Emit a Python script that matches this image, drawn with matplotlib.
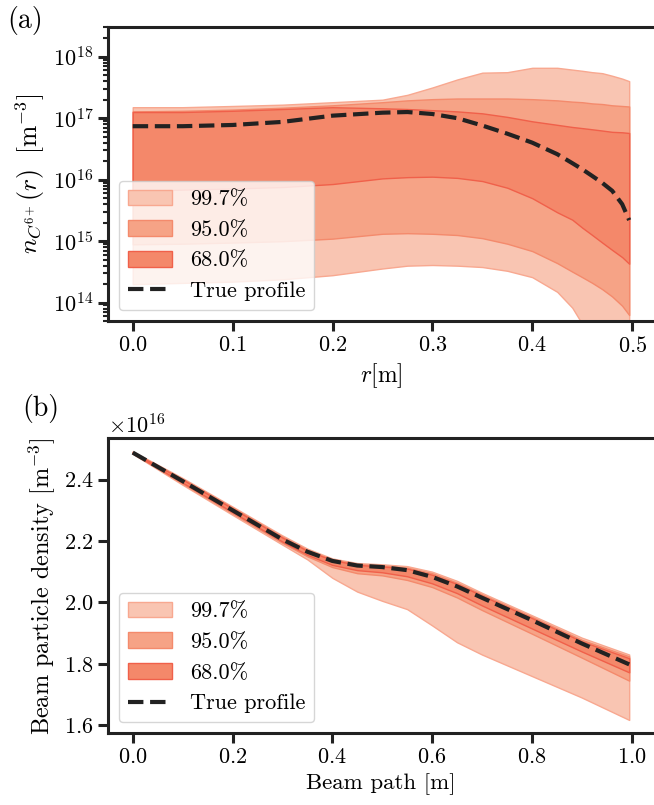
import numpy as np
import matplotlib
matplotlib.use("Agg")
import matplotlib.pyplot as plt

plt.rcParams['font.family'] = 'serif'
plt.rcParams['font.serif'] = ['cmr10']
plt.rcParams['mathtext.fontset'] = 'cm'
plt.rcParams['axes.formatter.use_mathtext'] = True
plt.rcParams['axes.unicode_minus'] = False
plt.rcParams['font.size'] = 16

# (a) C6+ density profile
r = [0, 0.05, 0.1, 0.15, 0.2, 0.25, 0.275, 0.3, 0.325, 0.35,
     0.375, 0.4, 0.425, 0.44, 0.45, 0.46, 0.47, 0.48, 0.49, 0.497]
n_true = [7.41e16, 7.41e16, 7.76e16, 8.71e16, 1.10e17, 1.23e17, 1.26e17, 1.17e17, 1.0e17, 7.6e16,
          5.6e16, 4.0e16, 2.6e16, 1.86e16, 1.48e16, 1.15e16, 8.9e15, 6.6e15, 4.0e15, 2.2e15]
n_up997 = [1.51e17, 1.51e17, 1.58e17, 1.66e17, 1.82e17, 2.0e17, 2.4e17, 3.16e17, 4.27e17, 5.5e17,
           5.6e17, 6.6e17, 6.6e17, 6.17e17, 5.9e17, 5.6e17, 5.4e17, 4.9e17, 4.4e17, 4.0e17]
n_up95 = [1.29e17, 1.32e17, 1.38e17, 1.48e17, 1.62e17, 1.82e17, 1.95e17, 2.04e17, 2.09e17, 2.09e17,
          2.09e17, 2.04e17, 1.95e17, 1.86e17, 1.82e17, 1.74e17, 1.7e17, 1.62e17, 1.58e17, 1.55e17]
n_up68 = [1.26e17, 1.26e17, 1.32e17, 1.41e17, 1.51e17, 1.45e17, 1.41e17, 1.35e17, 1.29e17, 1.2e17,
          1.05e17, 8.9e16, 7.8e16, 7.2e16, 6.9e16, 6.6e16, 6.3e16, 6.0e16, 5.9e16, 5.75e16]
n_lo68 = [6.6e15, 6.9e15, 7.2e15, 7.6e15, 8.5e15, 1.05e16, 1.1e16, 1.12e16, 1.07e16, 9.5e15,
          7.4e15, 5.0e15, 2.95e15, 2.24e15, 1.66e15, 1.26e15, 9.5e14, 7.2e14, 5.5e14, 4.3e14]
n_lo95 = [8.9e14, 9.1e14, 9.5e14, 1.0e15, 1.1e15, 1.32e15, 1.35e15, 1.32e15, 1.26e15, 1.12e15,
          9.1e14, 6.9e14, 4.4e14, 3.2e14, 2.6e14, 2.1e14, 1.66e14, 1.26e14, 8.9e13, 6.3e13]
n_lo997 = [2.0e14, 2.1e14, 2.2e14, 2.4e14, 2.8e14, 3.6e14, 4.0e14, 4.1e14, 4.0e14, 3.8e14,
           3.3e14, 2.6e14, 1.5e14, 8.3e13, 4.5e13, 2.5e13, 2.0e13, 1.6e13, 1.6e13, 1.6e13]

# (b) beam particle density (x1e16)
path = [0, 0.1, 0.2, 0.3, 0.35, 0.4, 0.45, 0.5, 0.55, 0.6, 0.65, 0.7, 0.8, 0.9, 0.995]
b_true = [2.488, 2.395, 2.300, 2.205, 2.165, 2.135, 2.120, 2.115, 2.105, 2.083, 2.052, 2.015, 1.942, 1.866, 1.798]
b_up997 = [2.492, 2.405, 2.312, 2.218, 2.175, 2.143, 2.128, 2.124, 2.118, 2.100, 2.070, 2.031, 1.958, 1.885, 1.830]
b_up95 = [2.490, 2.402, 2.309, 2.214, 2.171, 2.140, 2.125, 2.120, 2.113, 2.095, 2.064, 2.026, 1.953, 1.878, 1.824]
b_up68 = [2.489, 2.400, 2.306, 2.211, 2.168, 2.138, 2.122, 2.117, 2.110, 2.090, 2.060, 2.022, 1.949, 1.873, 1.818]
b_lo68 = [2.486, 2.390, 2.294, 2.198, 2.155, 2.122, 2.105, 2.098, 2.085, 2.062, 2.030, 1.990, 1.915, 1.840, 1.772]
b_lo95 = [2.485, 2.387, 2.290, 2.194, 2.150, 2.115, 2.095, 2.088, 2.073, 2.050, 2.016, 1.975, 1.898, 1.820, 1.745]
b_lo997 = [2.484, 2.383, 2.285, 2.188, 2.140, 2.080, 2.035, 2.005, 1.978, 1.925, 1.870, 1.830, 1.760, 1.690, 1.617]

labels = ['99.7%', '95.0%', '68.0%']
face = ['#f9c5b2', '#f6a386', '#f4886a']
edge = ['#f8a890', '#f48a6c', '#f0604a']

fig = plt.figure(figsize=(6.54, 8.05), dpi=100)
ax1 = fig.add_axes([0.165, 0.601, 0.835, 0.365])
ax2 = fig.add_axes([0.165, 0.089, 0.835, 0.367])


def style(ax):
    for s in ['left', 'top', 'bottom']:
        ax.spines[s].set_linewidth(2.2)
        ax.spines[s].set_color('#222222')
    ax.spines['right'].set_visible(False)
    ax.tick_params(which='major', length=7, width=2.2, color='#222222', labelsize=16)
    ax.tick_params(which='minor', length=3.5, width=1.5, color='#222222')


# panel (a)
bands_a = [(n_lo997, n_up997), (n_lo95, n_up95), (n_lo68, n_up68)]
for (lo, up), fc, ec, lab in zip(bands_a, face, edge, labels):
    ax1.fill_between(r, lo, up, facecolor=fc, edgecolor=ec, linewidth=1, label=lab)
ax1.plot(r, n_true, '--', color='#222222', lw=3, label='True profile')
ax1.set_yscale('log')
ax1.set_ylim(5e13, 3e18)
ax1.set_xlabel(r'$r$[m]', fontsize=17)
ax1.set_ylabel(r'$n_{C^{6+}}(r)\;$ [m$^{-3}$]', fontsize=18.5)
style(ax1)
ax1.legend(loc='lower left', fontsize=16)

# panel (b)
bands_b = [(b_lo997, b_up997), (b_lo95, b_up95), (b_lo68, b_up68)]
for (lo, up), fc, ec, lab in zip(bands_b, face, edge, labels):
    ax2.fill_between(path, np.array(lo) * 1e16, np.array(up) * 1e16,
                     facecolor=fc, edgecolor=ec, linewidth=1, label=lab)
ax2.plot(path, np.array(b_true) * 1e16, '--', color='#222222', lw=3, label='True profile')
ax2.set_xlabel('Beam path [m]', fontsize=16.5)
ax2.set_ylabel(r'Beam particle density [m$^{-3}$]', fontsize=17.5)
ax2.set_yticks(np.array([1.6, 1.8, 2.0, 2.2, 2.4]) * 1e16)
style(ax2)
ax2.yaxis.get_offset_text().set_fontsize(16)
ax2.legend(loc='lower left', fontsize=16)

fig.text(0.011, 0.974, '(a)', fontsize=20, va='center', ha='left')
fig.text(0.034, 0.493, '(b)', fontsize=20, va='center', ha='left')

fig.savefig('out.png', dpi=100)
